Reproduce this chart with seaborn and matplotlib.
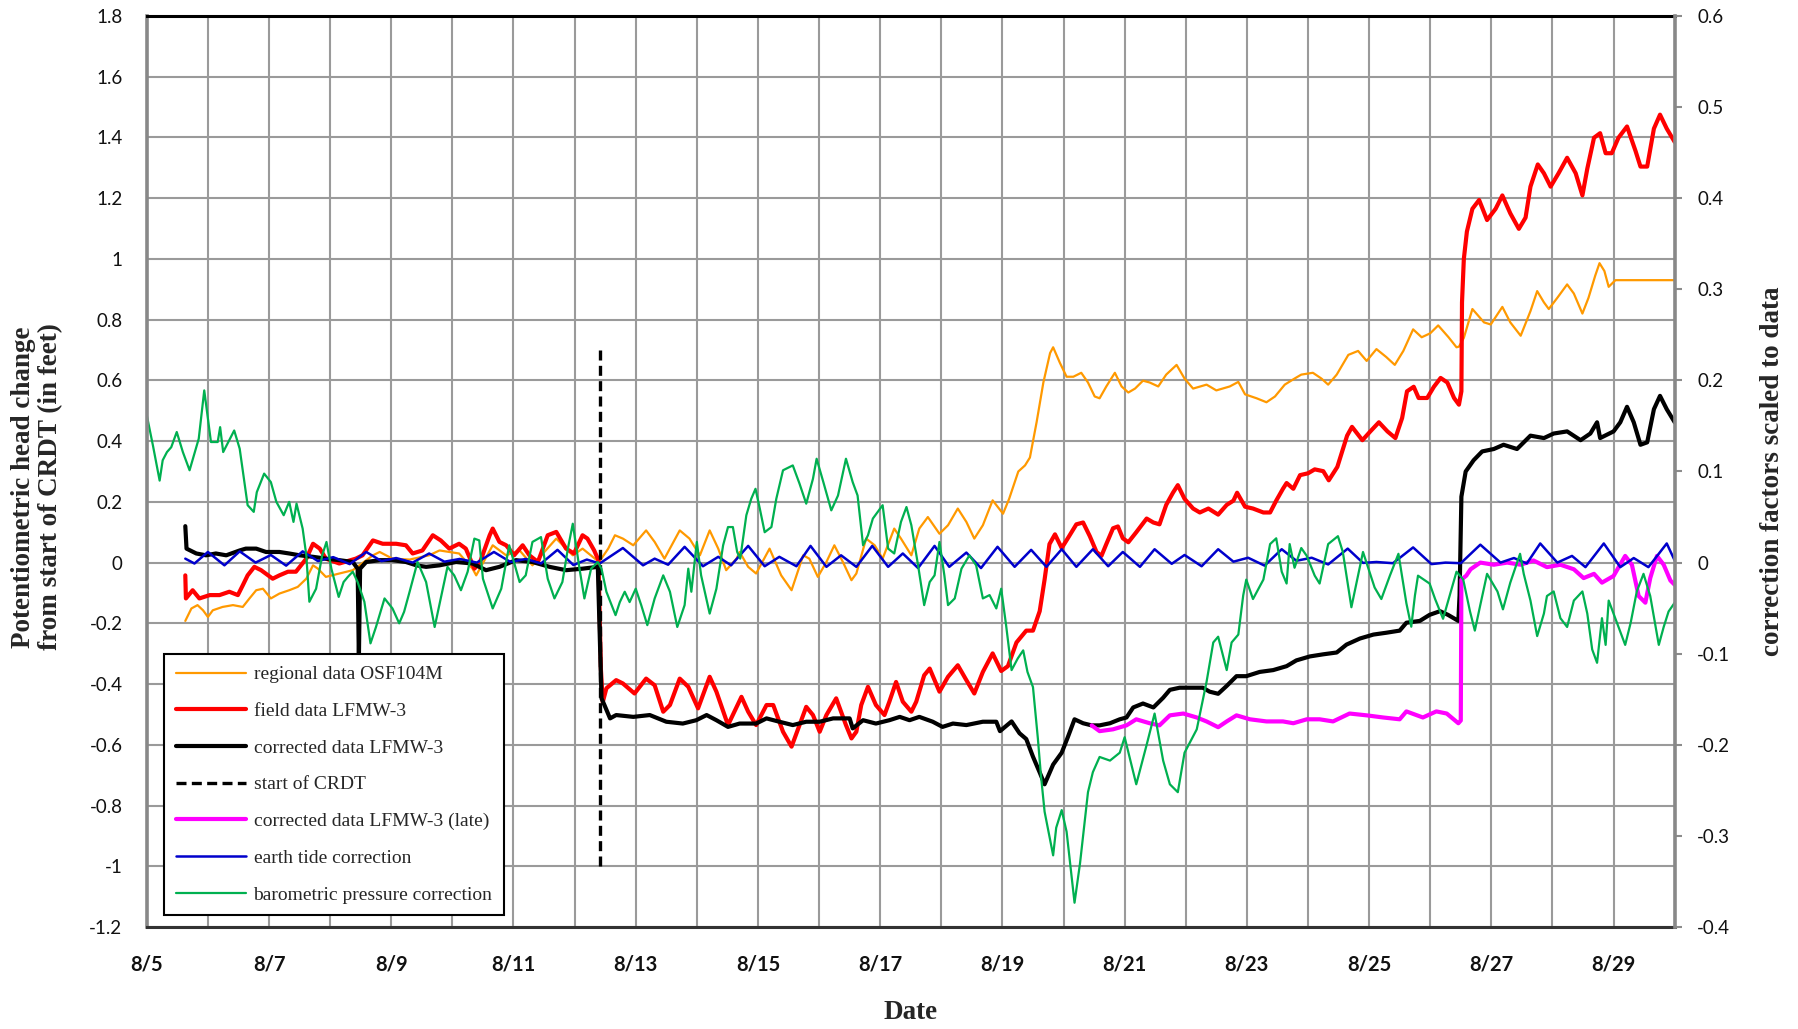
import numpy as np
import pandas as pd
import matplotlib
matplotlib.use("Agg")
import matplotlib.pyplot as plt
import matplotlib.dates as mdates
from matplotlib.ticker import FuncFormatter, MultipleLocator
import seaborn as sns

# ---- data (days after 8/5 00:00, head change in feet) ----
start = pd.Timestamp("2012-08-05")

orange_day = [0.63, 0.73, 0.83, 0.92, 1.0, 1.08, 1.24, 1.41, 1.57, 1.68, 1.79, 1.9, 2.03, 2.17, 2.33, 2.47,
              2.61, 2.72, 2.8, 2.93, 3.15, 3.37, 3.7, 3.81, 4.02, 4.3, 4.62, 4.79, 5.11, 5.33, 5.39, 5.66,
              5.88, 6.1, 6.31, 6.7, 6.97, 7.13, 7.4, 7.55, 7.66, 7.79, 7.96, 8.17, 8.31, 8.47, 8.72, 8.88,
              9.05, 9.21, 9.35, 9.48, 9.65, 9.7, 9.84, 9.97, 10.19, 10.38, 10.55, 10.74, 10.84, 10.98,
              11.12, 11.25, 11.39, 11.53, 11.61, 11.77, 11.91, 12.04, 12.23, 12.34, 12.51, 12.64, 12.78,
              12.97, 13.11, 13.27, 13.41, 13.54, 13.68, 13.84, 14.01, 14.11, 14.26, 14.37, 14.45, 14.56,
              14.67, 14.78, 14.83, 14.94, 15.05, 15.16, 15.29, 15.4, 15.51, 15.59, 15.7, 15.84, 15.95,
              16.06, 16.17, 16.3, 16.41, 16.55, 16.68, 16.85, 16.98, 17.12, 17.34, 17.5, 17.72, 17.86,
              17.97, 18.16, 18.32, 18.46, 18.62, 18.78, 18.89, 19.08, 19.22, 19.33, 19.47, 19.66, 19.82,
              19.96, 20.12, 20.28, 20.42, 20.56, 20.72, 20.86, 21.0, 21.13, 21.3, 21.43, 21.47, 21.55,
              21.69, 21.88, 21.99, 22.18, 22.31, 22.48, 22.64, 22.75, 22.86, 22.94, 23.08, 23.24, 23.35,
              23.49, 23.59, 23.7, 23.77, 23.85, 23.92, 24.03, 25.0]
orange_val = [-0.192, -0.151, -0.14, -0.157, -0.179, -0.157, -0.146, -0.14, -0.146, -0.118, -0.091, -0.086,
              -0.118, -0.102, -0.091, -0.08, -0.053, -0.009, -0.02, -0.047, -0.036, -0.025, 0.024, 0.035,
              0.013, 0.01, 0.024, 0.04, 0.03, -0.02, -0.042, 0.057, 0.024, 0.04, -0.009, 0.079, 0.024, 0.046,
              0.002, 0.046, 0.09, 0.079, 0.057, 0.106, 0.068, 0.013, 0.106, 0.079, 0.024, 0.106, 0.046,
              -0.025, 0.013, 0.035, -0.014, -0.036, 0.046, -0.042, -0.091, 0.024, 0.013, -0.047, 0.002,
              0.057, 0.002, -0.058, -0.036, 0.079, 0.057, 0.013, 0.112, 0.079, 0.024, 0.112, 0.15, 0.095,
              0.123, 0.178, 0.134, 0.079, 0.123, 0.205, 0.161, 0.21, 0.30, 0.32, 0.346, 0.463, 0.593, 0.69,
              0.709, 0.658, 0.612, 0.612, 0.625, 0.593, 0.547, 0.541, 0.58, 0.625, 0.58, 0.56, 0.573, 0.599,
              0.593, 0.58, 0.619, 0.651, 0.606, 0.573, 0.586, 0.567, 0.58, 0.595, 0.554, 0.541, 0.528,
              0.547, 0.586, 0.606, 0.619, 0.625, 0.606, 0.586, 0.619, 0.684, 0.697, 0.664, 0.703, 0.677,
              0.651, 0.697, 0.768, 0.742, 0.755, 0.781, 0.742, 0.709, 0.711, 0.74, 0.835, 0.791, 0.784,
              0.842, 0.791, 0.747, 0.828, 0.894, 0.857, 0.835, 0.872, 0.916, 0.886, 0.82, 0.872, 0.945,
              0.986, 0.96, 0.908, 0.93, 0.93]

red_day = [0.63, 0.64, 0.75, 0.86, 1.03, 1.19, 1.35, 1.49, 1.57, 1.65, 1.76, 1.87, 2.06, 2.17, 2.31, 2.44,
           2.61, 2.72, 2.83, 2.93, 3.15, 3.42, 3.53, 3.7, 3.86, 4.08, 4.24, 4.35, 4.51, 4.68, 4.81, 4.95,
           5.11, 5.22, 5.36, 5.45, 5.61, 5.66, 5.77, 5.88, 6.01, 6.15, 6.26, 6.4, 6.56, 6.7, 6.86, 6.99,
           7.13, 7.21, 7.32, 7.39, 7.43, 7.46, 7.52, 7.68, 7.79, 7.98, 8.17, 8.31, 8.45, 8.56, 8.72, 8.86,
           9.02, 9.21, 9.32, 9.51, 9.73, 9.84, 9.97, 10.14, 10.25, 10.41, 10.55, 10.68, 10.79, 10.9,
           11.01, 11.12, 11.28, 11.44, 11.53, 11.61, 11.69, 11.8, 11.93, 12.07, 12.15, 12.26, 12.37,
           12.51, 12.59, 12.72, 12.81, 12.97, 13.11, 13.27, 13.41, 13.54, 13.68, 13.84, 13.98, 14.09,
           14.23, 14.39, 14.5, 14.61, 14.69, 14.77, 14.86, 14.97, 15.07, 15.21, 15.32, 15.43, 15.54,
           15.62, 15.7, 15.81, 15.89, 15.97, 16.06, 16.19, 16.36, 16.47, 16.57, 16.68, 16.79, 16.87,
           16.98, 17.12, 17.23, 17.37, 17.53, 17.67, 17.78, 17.84, 17.97, 18.1, 18.27, 18.38, 18.48,
           18.59, 18.65, 18.76, 18.87, 19.0, 19.11, 19.25, 19.34, 19.48, 19.64, 19.72, 19.89, 20.02,
           20.16, 20.3, 20.43, 20.54, 20.62, 20.73, 20.81, 20.95, 21.06, 21.17, 21.28, 21.39, 21.47,
           21.51, 21.52, 21.55, 21.6, 21.69, 21.8, 21.93, 22.07, 22.18, 22.31, 22.45, 22.56, 22.64,
           22.76, 22.86, 22.97, 23.1, 23.24, 23.38, 23.49, 23.57, 23.68, 23.78, 23.87, 23.97, 24.08,
           24.22, 24.36, 24.44, 24.55, 24.66, 24.76, 24.87, 25.0]
red_val = [-0.042, -0.118, -0.091, -0.118, -0.107, -0.107, -0.096, -0.107, -0.075, -0.042, -0.014, -0.025,
           -0.053, -0.042, -0.03, -0.03, 0.013, 0.062, 0.046, 0.013, -0.003, 0.013, 0.024, 0.073, 0.062,
           0.062, 0.057, 0.03, 0.04, 0.09, 0.073, 0.046, 0.062, 0.046, -0.02, 0.0, 0.09, 0.112, 0.068,
           0.057, 0.024, 0.057, 0.024, 0.002, 0.09, 0.101, 0.046, 0.03, 0.09, 0.079, 0.04, 0.008, -0.35,
           -0.46, -0.414, -0.387, -0.398, -0.431, -0.382, -0.404, -0.491, -0.469, -0.382, -0.409, -0.48,
           -0.376, -0.425, -0.535, -0.442, -0.491, -0.535, -0.469, -0.469, -0.557, -0.606, -0.535,
           -0.475, -0.502, -0.557, -0.502, -0.447, -0.535, -0.579, -0.557, -0.469, -0.409, -0.469,
           -0.502, -0.458, -0.393, -0.458, -0.491, -0.458, -0.371, -0.349, -0.425, -0.376, -0.338,
           -0.387, -0.431, -0.36, -0.299, -0.357, -0.341, -0.263, -0.224, -0.224, -0.16, -0.056, 0.061,
           0.093, 0.048, 0.08, 0.126, 0.132, 0.087, 0.035, 0.022, 0.061, 0.113, 0.119, 0.08, 0.067, 0.1,
           0.145, 0.132, 0.126, 0.19, 0.23, 0.255, 0.21, 0.178, 0.165, 0.178, 0.158, 0.19, 0.204, 0.23,
           0.184, 0.178, 0.165, 0.165, 0.204, 0.243, 0.262, 0.243, 0.288, 0.294, 0.307, 0.301, 0.271,
           0.315, 0.418, 0.447, 0.403, 0.432, 0.462, 0.432, 0.41, 0.476, 0.564, 0.579, 0.542, 0.542,
           0.579, 0.608, 0.593, 0.542, 0.52, 0.564, 0.857, 1.0, 1.09, 1.165, 1.194, 1.128, 1.165, 1.209,
           1.15, 1.099, 1.136, 1.238, 1.311, 1.282, 1.238, 1.282, 1.333, 1.282, 1.209, 1.297, 1.399,
           1.414, 1.348, 1.348, 1.399, 1.436, 1.355, 1.304, 1.304, 1.429, 1.475, 1.429, 1.385]

black_day = [0.63, 0.65, 0.81, 0.97, 1.13, 1.3, 1.52, 1.62, 1.79, 1.95, 2.17, 2.33, 2.5, 2.72, 2.93, 3.15,
             3.37, 3.45, 3.47, 3.49, 3.59, 3.81, 4.02, 4.24, 4.41, 4.57, 4.79, 5.06, 5.33, 5.55, 5.77,
             6.04, 6.31, 6.59, 6.86, 7.13, 7.38, 7.42, 7.44, 7.49, 7.58, 7.68, 7.96, 8.23, 8.5, 8.77,
             8.99, 9.16, 9.32, 9.51, 9.7, 9.97, 10.14, 10.35, 10.57, 10.79, 11.01, 11.23, 11.5, 11.55,
             11.72, 11.93, 12.15, 12.32, 12.48, 12.64, 12.86, 13.02, 13.19, 13.41, 13.68, 13.9, 13.96,
             14.15, 14.28, 14.39, 14.5, 14.61, 14.69, 14.83, 14.97, 15.07, 15.18, 15.32, 15.46, 15.59,
             15.76, 15.92, 16.03, 16.14, 16.3, 16.47, 16.63, 16.74, 16.9, 17.12, 17.28, 17.39, 17.53,
             17.67, 17.83, 17.99, 18.21, 18.43, 18.65, 18.81, 19.03, 19.25, 19.47, 19.63, 19.85, 20.07,
             20.28, 20.5, 20.61, 20.83, 20.99, 21.16, 21.29, 21.46, 21.48, 21.51, 21.58, 21.71, 21.85,
             22.04, 22.2, 22.42, 22.64, 22.86, 23.02, 23.24, 23.46, 23.62, 23.73, 23.78, 24.0, 24.11,
             24.22, 24.33, 24.44, 24.55, 24.66, 24.76, 24.87, 25.0]
black_val = [0.12, 0.046, 0.03, 0.024, 0.03, 0.024, 0.04, 0.046, 0.046, 0.035, 0.035, 0.03, 0.024, 0.019,
             0.013, 0.008, 0.002, -0.02, -0.32, -0.02, 0.002, 0.008, 0.008, 0.002, -0.009, -0.014, -0.009,
             0.002, -0.003, -0.025, -0.014, 0.008, 0.002, -0.014, -0.025, -0.02, -0.014, -0.3, -0.447,
             -0.47, -0.513, -0.502, -0.508, -0.502, -0.524, -0.53, -0.519, -0.502, -0.519, -0.541, -0.53,
             -0.53, -0.513, -0.524, -0.535, -0.524, -0.524, -0.513, -0.513, -0.546, -0.519, -0.53, -0.519,
             -0.508, -0.519, -0.508, -0.524, -0.541, -0.53, -0.535, -0.524, -0.524, -0.555, -0.523,
             -0.562, -0.581, -0.639, -0.691, -0.73, -0.665, -0.626, -0.575, -0.516, -0.529, -0.536,
             -0.536, -0.529, -0.516, -0.51, -0.477, -0.464, -0.477, -0.445, -0.419, -0.412, -0.412,
             -0.412, -0.425, -0.432, -0.406, -0.374, -0.374, -0.36, -0.354, -0.341, -0.322, -0.309,
             -0.302, -0.296, -0.27, -0.25, -0.237, -0.231, -0.224, -0.198, -0.192, -0.172, -0.16, -0.172,
             -0.192, -0.108, 0.217, 0.3, 0.337, 0.366, 0.374, 0.388, 0.374, 0.418, 0.41, 0.425, 0.432,
             0.403, 0.425, 0.462, 0.41, 0.432, 0.462, 0.513, 0.462, 0.388, 0.396, 0.505, 0.549, 0.505,
             0.462]

crdt_day = [7.41, 7.41]
crdt_val = [-1.0, 0.7]

magenta_day = [15.46, 15.59, 15.81, 16.03, 16.19, 16.41, 16.57, 16.74, 16.96, 17.18, 17.34, 17.53, 17.67,
               17.83, 18.05, 18.32, 18.59, 18.76, 18.98, 19.19, 19.41, 19.68, 19.96, 20.23, 20.5, 20.61,
               20.88, 21.1, 21.27, 21.46, 21.5, 21.51, 21.59, 21.66, 21.82, 22.04, 22.26, 22.48, 22.69,
               22.91, 23.13, 23.35, 23.51, 23.68, 23.81, 24.0, 24.19, 24.3, 24.41, 24.52, 24.6, 24.71,
               24.82, 24.93, 25.0]
magenta_val = [-0.536, -0.555, -0.549, -0.536, -0.516, -0.529, -0.536, -0.503, -0.497, -0.51, -0.523,
               -0.542, -0.523, -0.503, -0.516, -0.523, -0.523, -0.529, -0.516, -0.516, -0.523, -0.497,
               -0.503, -0.51, -0.516, -0.49, -0.51, -0.49, -0.497, -0.529, -0.52, -0.056, -0.043, -0.022,
               0.0, -0.007, 0.0, -0.007, 0.007, -0.015, -0.007, -0.022, -0.051, -0.037, -0.066, -0.044,
               0.022, -0.007, -0.11, -0.132, -0.051, 0.022, -0.007, -0.059, -0.073]

blue_day = [0.63, 0.78, 1.0, 1.27, 1.52, 1.78, 2.03, 2.28, 2.55, 2.8, 3.05, 3.32, 3.59, 3.84, 4.08, 4.35,
            4.62, 4.87, 5.12, 5.4, 5.68, 5.95, 6.2, 6.45, 6.72, 6.98, 7.2, 7.41, 7.79, 8.12, 8.31, 8.53,
            8.8, 9.1, 9.35, 9.56, 9.84, 10.11, 10.35, 10.63, 10.86, 11.12, 11.36, 11.61, 11.87, 12.13,
            12.37, 12.62, 12.89, 13.13, 13.41, 13.65, 13.92, 14.2, 14.47, 14.72, 14.97, 15.21, 15.48,
            15.73, 15.97, 16.25, 16.49, 16.77, 16.98, 17.26, 17.53, 17.78, 18.02, 18.29, 18.57, 18.81,
            19.06, 19.33, 19.65, 19.9, 20.12, 20.39, 20.72, 21.02, 21.25, 21.5, 21.82, 22.15, 22.37,
            22.58, 22.8, 23.08, 23.32, 23.54, 23.84, 24.11, 24.33, 24.57, 24.87, 25.0]
blue_val = [0.013, -0.003, 0.035, -0.009, 0.037, 0.0, 0.025, -0.01, 0.037, 0.005, 0.018, -0.005, 0.035,
            0.005, 0.015, 0.0, 0.03, 0.003, 0.012, 0.0, 0.035, 0.002, 0.012, -0.003, 0.042, -0.008, 0.01,
            -0.003, 0.048, -0.009, 0.013, -0.007, 0.052, -0.012, 0.019, -0.009, 0.055, -0.012, 0.019,
            -0.012, 0.055, -0.014, 0.024, -0.014, 0.055, -0.014, 0.03, -0.018, 0.055, -0.014, 0.033,
            -0.018, 0.052, -0.014, 0.042, -0.014, 0.044, -0.014, 0.044, -0.012, 0.035, -0.014, 0.044,
            -0.004, 0.025, -0.012, 0.044, 0.003, 0.016, -0.01, 0.044, 0.006, 0.016, -0.006, 0.046,
            -0.001, 0.002, -0.002, 0.05, -0.005, 0.0, -0.002, 0.059, 0.0, 0.015, -0.003, 0.063, 0.0,
            0.022, -0.015, 0.063, -0.015, 0.015, -0.015, 0.063, 0.007]

green_day = [0.0, 0.1, 0.21, 0.26, 0.33, 0.4, 0.49, 0.59, 0.7, 0.85, 0.94, 1.05, 1.16, 1.2, 1.25, 1.43,
             1.52, 1.65, 1.75, 1.8, 1.92, 2.03, 2.12, 2.24, 2.33, 2.4, 2.45, 2.55, 2.61, 2.66, 2.77, 2.87,
             2.94, 3.02, 3.14, 3.22, 3.29, 3.37, 3.45, 3.56, 3.66, 3.75, 3.89, 4.02, 4.13, 4.21, 4.3,
             4.43, 4.57, 4.71, 4.81, 4.92, 5.03, 5.14, 5.25, 5.36, 5.44, 5.5, 5.66, 5.8, 5.93, 6.1, 6.2,
             6.31, 6.45, 6.56, 6.67, 6.8, 6.89, 6.97, 7.08, 7.16, 7.27, 7.38, 7.44, 7.52, 7.67, 7.74,
             7.82, 7.9, 8.0, 8.09, 8.19, 8.31, 8.45, 8.56, 8.68, 8.8, 8.86, 8.91, 9.0, 9.07, 9.21, 9.32,
             9.43, 9.51, 9.59, 9.66, 9.71, 9.81, 9.89, 9.96, 10.03, 10.11, 10.22, 10.3, 10.41, 10.57,
             10.68, 10.79, 10.9, 10.96, 11.07, 11.2, 11.31, 11.44, 11.55, 11.63, 11.72, 11.8, 11.88,
             12.04, 12.13, 12.23, 12.34, 12.43, 12.51, 12.62, 12.72, 12.81, 12.89, 12.97, 13.05, 13.11,
             13.22, 13.33, 13.46, 13.57, 13.68, 13.79, 13.9, 13.98, 14.06, 14.15, 14.25, 14.34, 14.41,
             14.5, 14.58, 14.63, 14.69, 14.83, 14.88, 14.97, 15.05, 15.18, 15.27, 15.4, 15.48, 15.59,
             15.76, 15.92, 16.0, 16.11, 16.19, 16.36, 16.49, 16.63, 16.74, 16.87, 16.98, 17.18, 17.34,
             17.45, 17.53, 17.67, 17.75, 17.86, 17.94, 17.99, 18.1, 18.27, 18.38, 18.48, 18.57, 18.65,
             18.7, 18.78, 18.89, 18.98, 19.11, 19.19, 19.33, 19.49, 19.57, 19.71, 19.9, 20.09, 20.2,
             20.34, 20.48, 20.61, 20.69, 20.75, 20.8, 20.99, 21.08, 21.21, 21.43, 21.54, 21.65, 21.73,
             21.82, 21.93, 22.1, 22.19, 22.31, 22.47, 22.53, 22.64, 22.75, 22.86, 22.91, 23.02, 23.13,
             23.24, 23.35, 23.49, 23.57, 23.65, 23.73, 23.81, 23.87, 23.92, 24.0, 24.11, 24.19, 24.28,
             24.38, 24.49, 24.6, 24.74, 24.82, 24.9, 25.0]
green_val = [0.485, 0.386, 0.27, 0.337, 0.364, 0.38, 0.43, 0.364, 0.304, 0.408, 0.567, 0.397, 0.397,
             0.446, 0.364, 0.435, 0.375, 0.189, 0.167, 0.232, 0.293, 0.265, 0.2, 0.156, 0.2, 0.134,
             0.194, 0.112, 0.024, -0.129, -0.086, 0.024, 0.068, -0.02, -0.113, -0.064, -0.047, -0.03,
             -0.064, -0.129, -0.266, -0.212, -0.118, -0.151, -0.2, -0.162, -0.096, 0.002, -0.064,
             -0.212, -0.118, -0.014, -0.042, -0.091, -0.03, 0.079, 0.073, -0.053, -0.151, -0.086, 0.057,
             -0.064, -0.042, 0.068, 0.084, -0.053, -0.118, -0.064, 0.046, 0.128, -0.02, -0.118, -0.02,
             0.002, -0.02, -0.096, -0.173, -0.13, -0.096, -0.13, -0.086, -0.14, -0.206, -0.118, -0.042,
             -0.096, -0.212, -0.14, -0.02, -0.096, 0.068, -0.042, -0.168, -0.086, 0.057, 0.117, 0.117,
             0.035, 0.013, 0.156, 0.21, 0.243, 0.178, 0.1, 0.117, 0.21, 0.304, 0.32, 0.26, 0.194, 0.276,
             0.342, 0.265, 0.172, 0.221, 0.342, 0.265, 0.221, 0.057, 0.09, 0.145, 0.189, 0.046, 0.03,
             0.134, 0.183, 0.123, -0.009, -0.14, -0.064, -0.042, 0.068, -0.042, -0.14, -0.118, -0.02,
             0.024, -0.009, -0.118, -0.107, -0.151, -0.086, -0.206, -0.354, -0.316, -0.289, -0.36,
             -0.41, -0.579, -0.7, -0.82, -0.964, -0.873, -0.815, -0.886, -1.12, -0.99, -0.756, -0.69,
             -0.64, -0.652, -0.626, -0.575, -0.665, -0.73, -0.6, -0.497, -0.652, -0.73, -0.756, -0.626,
             -0.549, -0.393, -0.263, -0.244, -0.354, -0.263, -0.237, -0.108, -0.056, -0.12, -0.056,
             0.061, 0.08, -0.03, -0.069, 0.061, -0.017, 0.048, 0.022, -0.043, -0.069, 0.061, 0.087,
             0.035, -0.147, 0.035, -0.082, -0.12, -0.043, 0.029, -0.134, -0.211, -0.108, -0.043, -0.069,
             -0.12, -0.185, -0.03, -0.056, -0.16, -0.224, -0.139, -0.037, -0.095, -0.154, -0.066, 0.029,
             -0.037, -0.125, -0.242, -0.168, -0.11, -0.095, -0.183, -0.212, -0.125, -0.095, -0.168,
             -0.286, -0.33, -0.183, -0.271, -0.125, -0.168, -0.227, -0.271, -0.198, -0.095, -0.037,
             -0.11, -0.271, -0.212, -0.161, -0.132]

series = [
    ("regional data OSF104M", orange_day, orange_val, "#FF9900", 1.6, "-"),
    ("field data LFMW-3", red_day, red_val, "#FF0000", 3.0, "-"),
    ("corrected data LFMW-3", black_day, black_val, "#000000", 3.0, "-"),
    ("start of CRDT", crdt_day, crdt_val, "#000000", 2.4, (0, (3, 1.6))),
    ("corrected data LFMW-3 (late)", magenta_day, magenta_val, "#FF00FF", 3.0, "-"),
    ("earth tide correction", blue_day, blue_val, "#0000CC", 1.8, "-"),
    ("barometric pressure correction", green_day, green_val, "#00B050", 1.6, "-"),
]


def to_dates(days):
    return start + pd.to_timedelta(np.array(days), unit="D")


sns.set_theme(style="white")
plt.rcParams["font.family"] = ["Lato", "DejaVu Sans"]
plt.rcParams["axes.unicode_minus"] = False

fig = plt.figure(figsize=(17.99, 10.29), dpi=100)
ax = fig.add_axes([0.0816, 0.0991, 0.9309 - 0.0816, 0.9845 - 0.0991])

handles = []
for label, d, v, color, lw, ls in series:
    sns.lineplot(x=to_dates(d), y=v, ax=ax, color=color, linewidth=lw, linestyle=ls,
                 estimator=None, sort=False, label=label)
    handles.append(ax.lines[-1])

ax.set_xlim(start, start + pd.Timedelta(days=25))
ax.set_ylim(-1.2, 1.8)
ax.yaxis.set_major_locator(MultipleLocator(0.2))
ax.yaxis.set_major_formatter(FuncFormatter(lambda v, p: f"{round(v, 1) + 0.0:g}"))
ax.xaxis.set_major_locator(mdates.DayLocator(bymonthday=range(5, 31, 2)))
ax.xaxis.set_minor_locator(mdates.DayLocator())
ax.xaxis.set_major_formatter(FuncFormatter(lambda v, p: f"{mdates.num2date(v).month}/{mdates.num2date(v).day}"))

ax.grid(True, which="major", axis="y", color="#9a9a9a", linewidth=1.5)
ax.grid(True, which="both", axis="x", color="#9a9a9a", linewidth=1.5)
ax.set_axisbelow(True)

ax.tick_params(axis="y", which="both", length=0, pad=17.5, labelsize=13.5, labelcolor="#111111")
ax.tick_params(axis="x", which="major", length=4, width=1.5, color="#8c8c8c", pad=16,
               labelsize=14.5, labelcolor="#111111")
ax.tick_params(axis="x", which="minor", length=0)
for lab in ax.get_xticklabels():
    lab.set_fontweight("bold")

ax.spines["left"].set_color("#888888")
ax.spines["left"].set_linewidth(2.6)
ax.spines["bottom"].set_color("#333333")
ax.spines["bottom"].set_linewidth(2.2)
ax.spines["top"].set_color("#000000")
ax.spines["top"].set_linewidth(2.2)
ax.spines["right"].set_visible(False)

serif = ["Liberation Serif", "DejaVu Serif"]
ax.set_xlabel("Date", fontsize=19.5, fontweight="bold", family=serif)
ax.xaxis.set_label_coords(0.5, -0.08)
ax.set_ylabel("Potentiometric head change\nfrom start of CRDT (in feet)", fontsize=19.5,
              fontweight="bold", family=serif, linespacing=1.1)
ax.yaxis.set_label_coords(-0.055, 0.483)

ax2 = ax.twinx()
ax2.set_ylim(-0.4, 0.6)
ax2.yaxis.set_major_locator(MultipleLocator(0.1))
ax2.yaxis.set_major_formatter(FuncFormatter(lambda v, p: f"{round(v, 1) + 0.0:g}"))
ax2.tick_params(axis="y", length=5.3, width=1.5, color="#8c8c8c", pad=11, labelsize=13.5,
                labelcolor="#111111")
for s in ["left", "top", "bottom"]:
    ax2.spines[s].set_visible(False)
ax2.spines["right"].set_color("#888888")
ax2.spines["right"].set_linewidth(2.6)
ax2.grid(False)
ax2.set_ylabel("correction factors scaled to data", fontsize=19.5, fontweight="bold", family=serif)
ax2.yaxis.set_label_coords(1.056, 0.5)

ax.get_legend().remove()
leg = ax2.legend(handles=handles, labels=[s[0] for s in series], loc="lower left",
                 bbox_to_anchor=(0.0113, 0.013), borderaxespad=0, frameon=True, fancybox=False,
                 framealpha=1, edgecolor="#000000", prop={"family": serif, "size": 14},
                 labelspacing=0.98, handlelength=3.6, handletextpad=0.4, borderpad=0.6)
leg.get_frame().set_linewidth(1.5)

fig.savefig("out.png", dpi=100)
